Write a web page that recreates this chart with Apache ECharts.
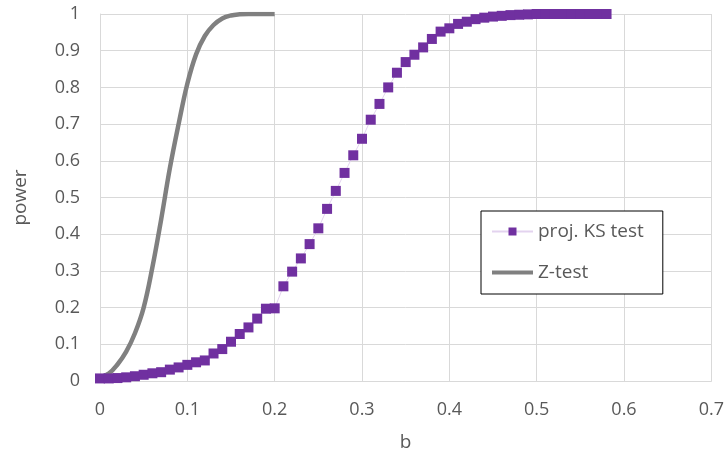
<!DOCTYPE html>
<html>
<head>
<meta charset="utf-8">
<script src="https://cdn.jsdelivr.net/npm/echarts@6/dist/echarts.min.js"></script>
<style>html,body{margin:0;padding:0;background:#fff}#c{width:727px;height:457px}</style>
</head>
<body>
<div id="c"></div>
<script>
var ksB = [0,0.01,0.02,0.03,0.04,0.05,0.06,0.07,0.08,0.09,0.10,0.11,0.12,0.13,0.14,0.15,0.16,0.17,0.18,0.19,0.20,0.21,0.22,0.23,0.24,0.25,0.26,0.27,0.28,0.29,0.30,0.31,0.32,0.33,0.34,0.35,0.36,0.37,0.38,0.39,0.40,0.41,0.42,0.43,0.44,0.45,0.46,0.47,0.48,0.49,0.50,0.51,0.52,0.53,0.54,0.55,0.56,0.57,0.58];
var ksPower = [0.007,0.007,0.008,0.010,0.013,0.017,0.021,0.024,0.031,0.037,0.044,0.051,0.056,0.075,0.087,0.107,0.128,0.146,0.170,0.197,0.198,0.258,0.298,0.334,0.373,0.416,0.469,0.518,0.567,0.615,0.660,0.712,0.755,0.800,0.840,0.869,0.889,0.909,0.932,0.952,0.961,0.973,0.979,0.986,0.990,0.993,0.995,0.997,0.998,0.999,1,1,1,1,1,1,1,1,1];
var zB = [0,0.01,0.02,0.03,0.04,0.05,0.06,0.07,0.08,0.09,0.10,0.11,0.12,0.13,0.14,0.15,0.16,0.17,0.18,0.19,0.20];
var zPower = [0.01,0.02,0.045,0.08,0.13,0.20,0.31,0.44,0.58,0.70,0.81,0.89,0.94,0.97,0.988,0.996,0.999,1,1,1,1];
var seriesNames = ['proj. KS test','Z-test'];

function pairs(xs, ys){ return xs.map(function(x,i){ return [x, ys[i]]; }); }

var font = 'Open Sans';
var chart = echarts.init(document.getElementById('c'), null, {renderer:'canvas'});
chart.setOption({
  animation:false,
  backgroundColor:'#fff',
  grid:{left:100,right:13,top:14,bottom:75,containLabel:false},
  legend:{
    orient:'vertical', left:481, top:211,
    padding:[11,19,12,9], itemGap:22, itemWidth:41, itemHeight:10,
    borderColor:'#000', borderWidth:1, backgroundColor:'#fff',
    textStyle:{fontFamily:font,fontSize:19,color:'#595959'},
    data:[
      {name:seriesNames[0]},
      {name:seriesNames[1], itemStyle:{opacity:0}, lineStyle:{width:4,color:'#808080'}}
    ]
  },
  xAxis:{
    type:'value', min:0, max:0.7, interval:0.1,
    name:'b', nameLocation:'middle', nameGap:52,
    nameTextStyle:{fontFamily:font,fontSize:19,color:'#595959'},
    axisLine:{show:true,lineStyle:{color:'#d9d9d9',width:1}},
    axisTick:{show:false},
    axisLabel:{margin:20,fontFamily:font,fontSize:18,color:'#595959'},
    splitLine:{show:true,lineStyle:{color:'#d9d9d9',width:1}}
  },
  yAxis:{
    type:'value', min:0, max:1, interval:0.1,
    name:'power', nameLocation:'middle', nameGap:70, nameRotate:90,
    nameTextStyle:{fontFamily:font,fontSize:19,color:'#595959'},
    axisLine:{show:true,lineStyle:{color:'#d9d9d9',width:1}},
    axisTick:{show:false},
    axisLabel:{margin:20,fontFamily:font,fontSize:18,color:'#595959'},
    splitLine:{show:true,lineStyle:{color:'#d9d9d9',width:1}}
  },
  series:[
    {
      name:seriesNames[0], type:'line', data:pairs(ksB, ksPower),
      symbol:'rect', symbolSize:10, showSymbol:true,
      itemStyle:{color:'#7030a0'},
      lineStyle:{color:'#e3d3ef',width:1}
    },
    {
      name:seriesNames[1], type:'line', data:pairs(zB, zPower),
      symbol:'none', smooth:0.4,
      itemStyle:{color:'#808080'},
      lineStyle:{color:'#808080',width:4.5}
    }
  ]
});
</script>
</body>
</html>
